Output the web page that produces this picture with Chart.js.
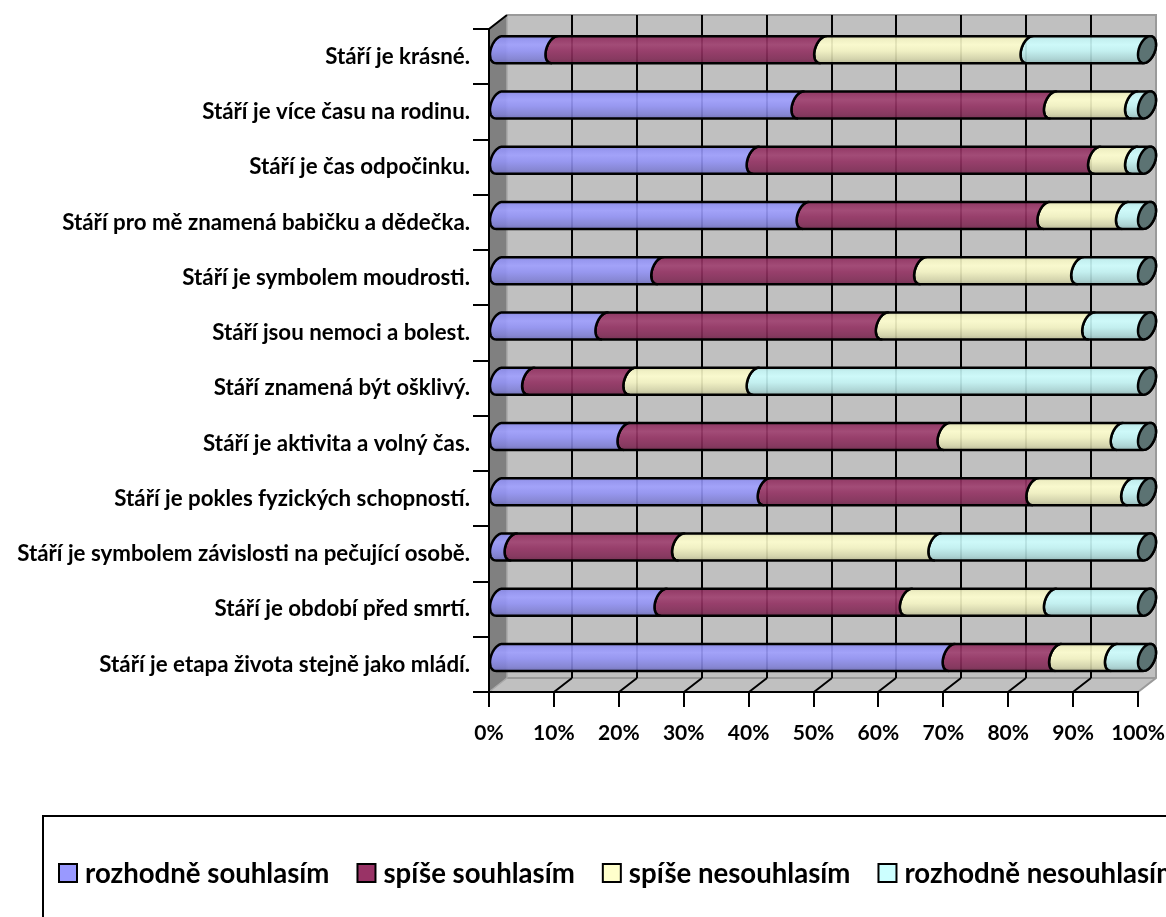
<!DOCTYPE html>
<html lang="cs">
<head>
<meta charset="utf-8">
<title>Stáří – postoje</title>
<script src="https://cdn.jsdelivr.net/npm/chart.js@4.4.1/dist/chart.umd.min.js"></script>
<style>
  html, body { margin: 0; padding: 0; background: #fff; overflow: hidden; }
  #wrap { width: 1166px; height: 917px; }
</style>
</head>
<body>
<div id="wrap"><canvas id="chart" width="1166" height="917"></canvas></div>
<script>
// ---- data -------------------------------------------------------------
const categories = [
  'Stáří je krásné.',
  'Stáří je více času na rodinu.',
  'Stáří je čas odpočinku.',
  'Stáří pro mě znamená babičku a dědečka.',
  'Stáří je symbolem moudrosti.',
  'Stáří jsou nemoci a bolest.',
  'Stáří znamená být ošklivý.',
  'Stáří je aktivita a volný čas.',
  'Stáří je pokles fyzických schopností.',
  'Stáří je symbolem závislosti na pečující osobě.',
  'Stáří je období před smrtí.',
  'Stáří je etapa života stejně jako mládí.'
];
const seriesNames = ['rozhodně souhlasím', 'spíše souhlasím', 'spíše nesouhlasím', 'rozhodně nesouhlasím'];
const rozhodneSouhlasim   = [8.7, 46.6, 39.7, 47.4, 25.0, 16.4,  5.1, 19.8, 41.4,  2.4, 25.5, 69.9];
const spiseSouhlasim      = [41.4, 38.9, 52.6, 37.1, 40.5, 43.2, 15.6, 49.3, 41.4, 25.8, 37.8, 16.4];
const spiseNesouhlasim    = [31.8, 12.5,  5.7, 12.1, 24.2, 31.8, 19.0, 26.7, 14.6, 39.5, 22.2,  8.6];
const rozhodneNesouhlasim = [18.1,  2.0,  2.0,  3.4, 10.3,  8.6, 60.3,  4.2,  2.6, 32.3, 14.5,  5.1];
const percentTicks = [0, 10, 20, 30, 40, 50, 60, 70, 80, 90, 100];

// ---- style ------------------------------------------------------------
const palette = ['#9999FF', '#993366', '#FFFFCC', '#CCFFFF'];
const FONT = 'Lato, "Open Sans", "DejaVu Sans", sans-serif';
const DEPTH = { x: 18, y: -14 };   // projected depth of the 3-D box
const ELL = { a: 9, b: 5 };         // cylinder end ellipse: half width, tilt

function hexRgb(hex) {
  const n = parseInt(hex.slice(1), 16);
  return [(n >> 16) & 255, (n >> 8) & 255, n & 255];
}
function shade(hex, f) {            // f > 0 towards white, f < 0 towards black
  const c = hexRgb(hex).map(v => f >= 0 ? v + (255 - v) * f : v * (1 + f));
  return 'rgb(' + c.map(v => Math.round(v)).join(',') + ')';
}

// ---- cylinder bars ----------------------------------------------------
const BarController = Chart.registry.getController('bar');
const BarElement = Chart.registry.getElement('bar');

class CylinderElement extends BarElement {
  draw(ctx) {
    const { x, y, base, height } = this.getProps(['x', 'y', 'base', 'height']);
    const o = this.options;
    const ox = DEPTH.x / 2, oy = DEPTH.y / 2;
    const x1 = Math.min(x, base) + ox, x2 = Math.max(x, base) + ox, cy = y + oy;
    const R = height / 2, a = ELL.a, b = ELL.b, h = Math.sqrt(R * R - b * b);
    const tTop = Math.atan2(-h, b);
    const pt = (cx, t) => [cx + a * Math.cos(t), cy - b * Math.cos(t) + h * Math.sin(t)];
    const N = 32;
    const cap = this.$endCap;

    ctx.save();
    ctx.beginPath();
    for (let i = 0; i <= N; i++) {
      const [px, py] = pt(x1, tTop - Math.PI * i / N);
      if (i === 0) ctx.moveTo(px, py); else ctx.lineTo(px, py);
    }
    for (let i = 0; i <= N; i++) {
      const t = cap ? tTop + Math.PI - Math.PI * i / N : tTop - Math.PI + Math.PI * i / N;
      const [px, py] = pt(x2, t);
      ctx.lineTo(px, py);
    }
    ctx.closePath();

    const col = o.backgroundColor;
    const g = ctx.createLinearGradient(0, cy - R, 0, cy + R);
    g.addColorStop(0.00, shade(col, -0.14));
    g.addColorStop(0.12, shade(col, -0.04));
    g.addColorStop(0.32, shade(col, 0.06));
    g.addColorStop(0.55, shade(col, -0.04));
    g.addColorStop(0.85, shade(col, -0.16));
    g.addColorStop(1.00, shade(col, -0.28));
    ctx.globalAlpha = 0.9;
    ctx.fillStyle = g;
    ctx.fill();
    ctx.globalAlpha = 1;
    ctx.lineWidth = o.borderWidth;
    ctx.strokeStyle = o.borderColor;
    ctx.lineJoin = 'round';
    ctx.stroke();

    if (cap) {
      ctx.beginPath();
      for (let i = 0; i <= 2 * N; i++) {
        const [px, py] = pt(x2, Math.PI * i / N);
        if (i === 0) ctx.moveTo(px, py); else ctx.lineTo(px, py);
      }
      ctx.closePath();
      ctx.fillStyle = shade(col, -0.55);
      ctx.fill();
      ctx.stroke();
    }
    ctx.restore();
  }
}
CylinderElement.id = 'cylinder';

class CylinderController extends BarController {
  draw() {
    const last = this.index === this.chart.data.datasets.length - 1;
    this._cachedMeta.data.forEach(el => { el.$endCap = last; });
    super.draw();
  }
}
CylinderController.id = 'cylinderBar';
CylinderController.defaults = Object.assign({}, BarController.defaults, { dataElementType: 'cylinder' });

Chart.register(CylinderElement, CylinderController);

// ---- 3-D box: walls, floor and back grid -------------------------------
const boxPlugin = {
  id: 'box3d',
  beforeDraw(chart) {
    const { ctx, chartArea: ca, scales } = chart;
    const dx = DEPTH.x, dy = DEPTH.y;
    ctx.save();
    ctx.fillStyle = '#fff';
    ctx.fillRect(0, 0, chart.width, chart.height);

    // back wall
    ctx.fillStyle = '#C0C0C0';
    ctx.fillRect(ca.left + dx, ca.top + dy, ca.right - ca.left, ca.bottom - ca.top);
    // floor
    ctx.beginPath();
    ctx.moveTo(ca.left, ca.bottom);
    ctx.lineTo(ca.left + dx, ca.bottom + dy);
    ctx.lineTo(ca.right + dx, ca.bottom + dy);
    ctx.lineTo(ca.right, ca.bottom);
    ctx.closePath();
    ctx.fill();
    // side wall
    ctx.fillStyle = '#808080';
    ctx.beginPath();
    ctx.moveTo(ca.left, ca.top);
    ctx.lineTo(ca.left + dx, ca.top + dy);
    ctx.lineTo(ca.left + dx, ca.bottom + dy);
    ctx.lineTo(ca.left, ca.bottom);
    ctx.closePath();
    ctx.fill();

    // light outline of the box
    ctx.strokeStyle = '#9A9A9A';
    ctx.lineWidth = 2;
    ctx.beginPath();
    ctx.moveTo(ca.left + dx, ca.top + dy);
    ctx.lineTo(ca.right + dx, ca.top + dy);
    ctx.lineTo(ca.right + dx, ca.bottom + dy);
    ctx.lineTo(ca.right, ca.bottom);
    ctx.moveTo(ca.left + dx, ca.bottom + dy);
    ctx.lineTo(ca.right + dx, ca.bottom + dy);
    ctx.stroke();
    ctx.strokeStyle = '#A8A8A8';
    ctx.lineWidth = 1.5;
    ctx.beginPath();
    ctx.moveTo(ca.left + dx, ca.top + dy);
    ctx.lineTo(ca.left + dx, ca.bottom + dy);
    ctx.lineTo(ca.left, ca.bottom);
    ctx.stroke();

    // grid on back wall and floor
    ctx.strokeStyle = '#000';
    ctx.lineWidth = 2;
    ctx.beginPath();
    scales.x.ticks.forEach(t => {
      if (t.value <= scales.x.min || t.value >= scales.x.max) return;
      const px = Math.round(scales.x.getPixelForValue(t.value));
      ctx.moveTo(px + dx, ca.top + dy);
      ctx.lineTo(px + dx, ca.bottom + dy);
      ctx.moveTo(px, ca.bottom);
      ctx.lineTo(px + dx, ca.bottom + dy);
    });
    ctx.moveTo(ca.left, ca.top);
    ctx.lineTo(ca.left + dx, ca.top + dy);
    ctx.stroke();
    ctx.restore();
  }
};

// ---- legend in a framed box ------------------------------------------
const boxedLegend = {
  id: 'boxedLegend',
  afterDraw(chart, args, opts) {
    const { ctx } = chart;
    ctx.save();
    ctx.strokeStyle = '#000';
    ctx.lineWidth = 2;
    ctx.strokeRect(opts.left, opts.top, chart.width + 40, 200);
    ctx.font = 'bold ' + opts.fontSize + 'px ' + FONT;
    ctx.textBaseline = 'middle';
    ctx.textAlign = 'left';
    let x = opts.startX;
    chart.data.datasets.forEach(ds => {
      const s = opts.box;
      ctx.fillStyle = ds.backgroundColor;
      ctx.fillRect(x, opts.centerY - s / 2, s, s);
      ctx.strokeRect(x, opts.centerY - s / 2, s, s);
      ctx.fillStyle = '#000';
      ctx.fillText(ds.label, x + s + opts.textGap, opts.centerY + 1);
      x += s + opts.textGap + ctx.measureText(ds.label).width + opts.itemGap;
    });
    ctx.restore();
  }
};

const seriesValues = [rozhodneSouhlasim, spiseSouhlasim, spiseNesouhlasim, rozhodneNesouhlasim];

new Chart(document.getElementById('chart'), {
  type: 'cylinderBar',
  data: {
    labels: categories,
    datasets: seriesNames.map((name, i) => ({
      label: name,
      data: seriesValues[i],
      backgroundColor: palette[i],
      borderColor: '#000',
      borderWidth: 2.5,
      barThickness: 27,
      clip: false
    }))
  },
  plugins: [boxPlugin, boxedLegend],
  options: {
    indexAxis: 'y',
    responsive: false,
    devicePixelRatio: 1,
    animation: false,
    events: [],
    layout: { padding: { left: 0, right: 28, top: 29, bottom: 165 } },
    scales: {
      x: {
        type: 'linear', min: 0, max: 100, stacked: true, position: 'bottom',
        afterBuildTicks: s => { s.ticks = percentTicks.map(v => ({ value: v })); },
        afterFit: s => { s.height = 60; s.paddingLeft = 0; s.paddingRight = 0; },
        ticks: {
          callback: v => v + '%', color: '#000', padding: 14, maxRotation: 0, autoSkip: false,
          font: { family: FONT, weight: 'bold', size: 21 }
        },
        grid: { drawOnChartArea: false, drawTicks: true, tickLength: 15, color: '#000', lineWidth: 2 },
        border: { display: true, color: '#000', width: 2 }
      },
      y: {
        type: 'category', stacked: true, offset: true,
        afterFit: s => { s.width = 489; s.paddingTop = 0; s.paddingBottom = 0; },
        ticks: { color: '#000', padding: 3, autoSkip: false, font: { family: FONT, weight: 'bold', size: 22.3 } },
        grid: { drawOnChartArea: false, offset: true, tickLength: 16, color: '#000', lineWidth: 2 },
        border: { display: true, color: '#000', width: 2 }
      }
    },
    plugins: {
      legend: { display: false },
      tooltip: { enabled: false },
      boxedLegend: { left: 43, top: 816, startX: 59, centerY: 873, box: 18, textGap: 8, itemGap: 28, fontSize: 27.6 }
    }
  }
});
</script>
</body>
</html>
